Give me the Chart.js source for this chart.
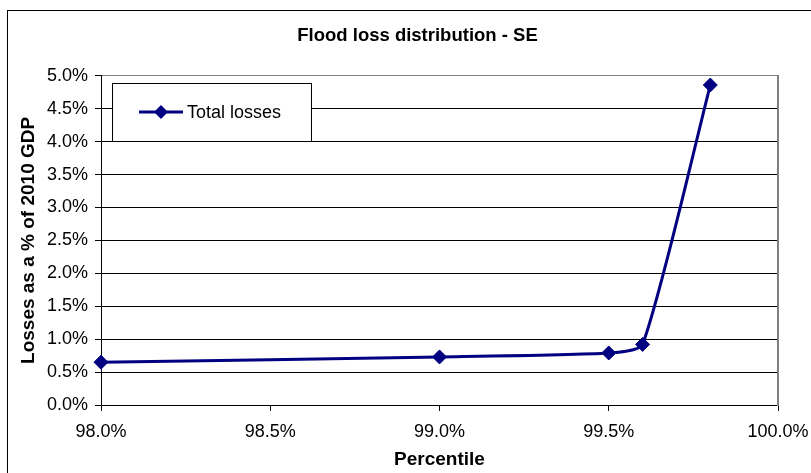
<!DOCTYPE html>
<html>
<head>
<meta charset="utf-8">
<script src="https://cdn.jsdelivr.net/npm/chart.js@4/dist/chart.umd.min.js"></script>
<style>
  html, body { margin: 0; padding: 0; overflow: hidden; background: #fff; }
  canvas { display: block; }
</style>
</head>
<body>
<canvas id="lossChart" width="828" height="473"></canvas>
<script>
// values
const seriesName = 'Total losses';
const percentiles = [98.0, 99.0, 99.5, 99.6, 99.8];
const totalLosses = [0.65, 0.73, 0.79, 0.92, 4.86];

const NAVY = '#000080';
const FONT = 'Arial, "Liberation Sans", sans-serif';

// white page + outer chart border (right/bottom edges sit outside the window)
const frame = {
    id: 'frame',
    beforeDraw(chart) {
        const ctx = chart.ctx;
        ctx.save();
        ctx.fillStyle = '#fff';
        ctx.fillRect(0, 0, chart.width, chart.height);
        ctx.strokeStyle = '#000';
        ctx.lineWidth = 1;
        ctx.strokeRect(7.5, 10.5, 819, 470);
        ctx.restore();
    }
};

// boxed legend inside the plot, like the spreadsheet one
const boxLegend = {
    id: 'boxLegend',
    afterDatasetsDraw(chart) {
        const ctx = chart.ctx;
        const ds = chart.data.datasets[0];
        const x = 112, y = 83, w = 199, h = 58;
        const cy = y + h / 2;
        ctx.save();
        ctx.fillStyle = '#fff';
        ctx.fillRect(x, y, w, h);
        ctx.strokeStyle = '#000';
        ctx.lineWidth = 1;
        ctx.strokeRect(x + 0.5, y + 0.5, w, h);

        ctx.strokeStyle = ds.borderColor;
        ctx.lineWidth = 3;
        ctx.beginPath();
        ctx.moveTo(139, cy);
        ctx.lineTo(183, cy);
        ctx.stroke();
        ctx.fillStyle = ds.pointBackgroundColor;
        ctx.beginPath();
        ctx.moveTo(161, cy - 7); ctx.lineTo(168, cy); ctx.lineTo(161, cy + 7); ctx.lineTo(154, cy);
        ctx.closePath();
        ctx.fill();

        ctx.fillStyle = '#000';
        ctx.font = '18px ' + FONT;
        ctx.textBaseline = 'middle';
        ctx.textAlign = 'left';
        ctx.fillText(ds.label, 187, cy + 1);
        ctx.restore();
    }
};

const ctx = document.getElementById('lossChart').getContext('2d');
new Chart(ctx, {
    type: 'scatter',
    data: {
        datasets: [{
            label: seriesName,
            data: percentiles.map((p, i) => ({ x: p, y: totalLosses[i] })),
            showLine: true,
            clip: false,
            borderColor: NAVY,
            backgroundColor: NAVY,
            borderWidth: 3,
            tension: 0.2,
            pointStyle: 'rectRot',
            pointRadius: 7,
            pointHoverRadius: 7,
            pointBackgroundColor: NAVY,
            pointBorderColor: NAVY,
            pointBorderWidth: 1
        }]
    },
    options: {
        responsive: false,
        devicePixelRatio: 1,
        animation: false,
        layout: { padding: { left: 7, top: 10, right: 0, bottom: 0 } },
        plugins: {
            legend: { display: false },
            tooltip: { enabled: false },
            title: {
                display: true,
                text: 'Flood loss distribution - SE',
                color: '#000',
                font: { family: FONT, size: 18.5, weight: 'bold' },
                padding: { top: 15, bottom: 28.6 }
            }
        },
        scales: {
            x: {
                type: 'linear',
                min: 98,
                max: 100,
                afterFit(scale) { scale.height = 68; },
                ticks: {
                    stepSize: 0.5,
                    color: '#000',
                    padding: 10,
                    font: { family: FONT, size: 18 },
                    callback: v => v.toFixed(1) + '%'
                },
                grid: {
                    drawOnChartArea: false,
                    drawTicks: true,
                    tickLength: 6,
                    tickColor: '#000'
                },
                border: { color: '#000', width: 1 },
                title: {
                    display: true,
                    text: 'Percentile',
                    color: '#000',
                    font: { family: FONT, size: 19, weight: 'bold' },
                    padding: { top: 0, bottom: 2 }
                }
            },
            y: {
                min: 0,
                max: 5,
                afterFit(scale) { scale.width = 94; },
                ticks: {
                    stepSize: 0.5,
                    color: '#000',
                    padding: 7,
                    font: { family: FONT, size: 18 },
                    callback: v => v.toFixed(1) + '%'
                },
                grid: {
                    color: c => (c.tick && c.tick.value === 5) ? '#808080' : '#000',
                    tickLength: 6,
                    tickColor: '#000'
                },
                border: { color: '#000', width: 1 },
                title: {
                    display: true,
                    text: 'Losses as a % of 2010 GDP',
                    color: '#000',
                    font: { family: FONT, size: 19, weight: 'bold' },
                    padding: { top: 10, bottom: 0 }
                }
            },
            y2: {
                position: 'right',
                min: 0,
                max: 5,
                afterFit(scale) { scale.width = 50; },
                ticks: { display: false },
                grid: { drawOnChartArea: false, drawTicks: false },
                border: { color: '#808080', width: 2 }
            }
        }
    },
    plugins: [frame, boxLegend]
});
</script>
</body>
</html>
